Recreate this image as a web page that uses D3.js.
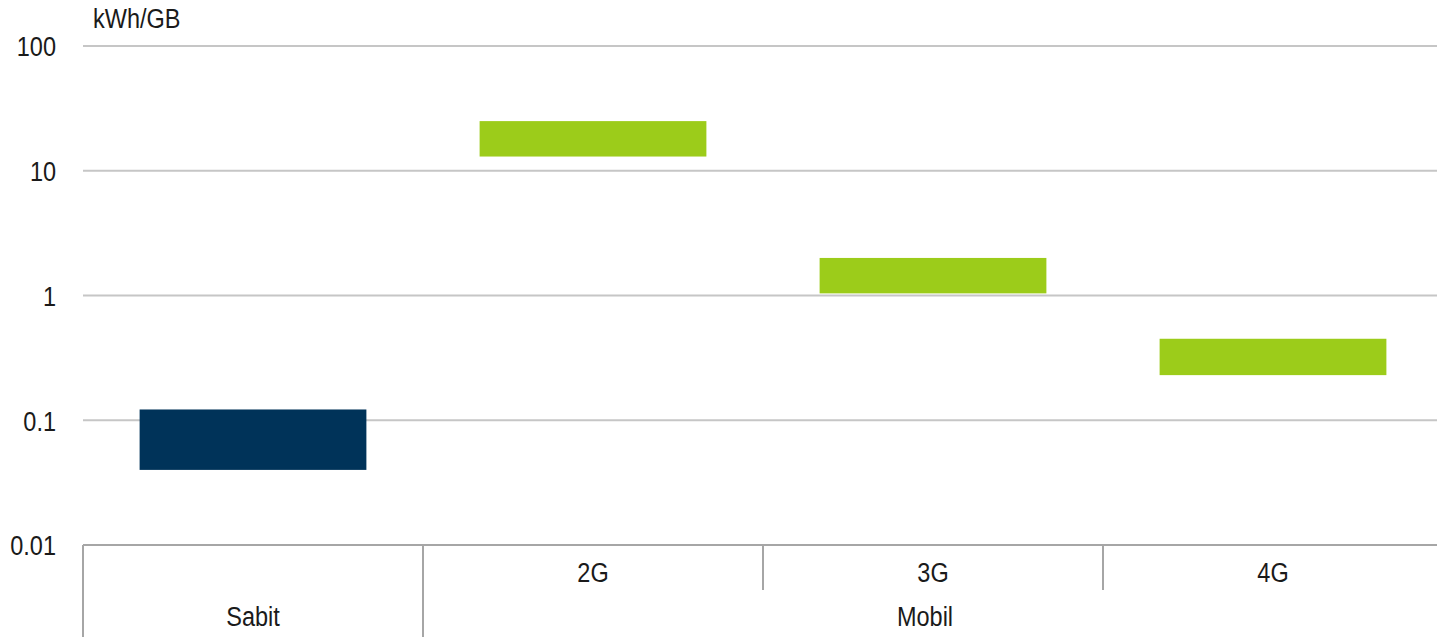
<!DOCTYPE html>
<html>
<head>
<meta charset="utf-8">
<script src="https://cdn.jsdelivr.net/npm/d3@7"></script>
<style>
	body{margin:0;background:#fff}
	svg{display:block;font-family:"Liberation Sans Narrow","Arial Narrow","Liberation Sans",Arial,sans-serif}
</style>
</head>
<body>
<svg></svg>
<script>
// kWh per GB, low and high end of each range
const categories=["Sabit","2G","3G","4G"]
const groups=["Sabit","Mobil","Mobil","Mobil"]
const lowValues=[0.04,13,1.04,0.23]
const highValues=[0.122,25,2,0.45]
const tickValues=[0.01,0.1,1,10,100]
const tickLabels=["0.01","0.1","1","10","100"]

const colors={Sabit:"#003359",Mobil:"#9ccc1a"}

//squeeze the text a bit, the original font is a narrow one
const squeeze=0.87
const fontSize="27px"

const svg=d3.select("svg")
	.attr("width",1437)
	.attr("height",637)

//log scale for the y axis
const y=d3.scaleLog()
	.domain([0.01,100])
	.range([545,46])

const x=d3.scaleBand()
	.domain(categories)
	.range([83,1443])

const place=function(px,py){
	return "translate("+px+","+py+") scale("+squeeze+",1)"
}

//grid lines
svg.append("g")
	.selectAll("line")
	.data(tickValues.slice(1))
	.enter()
	.append("line")
	.attr("x1",83)
	.attr("x2",1443)
	.attr("y1",d=>y(d))
	.attr("y2",d=>y(d))
	.style("stroke","#c6c6c6")
	.style("stroke-width",2)

//tick labels
svg.append("g")
	.selectAll("text")
	.data(tickValues)
	.enter()
	.append("text")
	.attr("transform",d=>place(56,y(d)+1))
	.attr("dy","0.35em")
	.attr("text-anchor","end")
	.style("font-size",fontSize)
	.style("fill","#1a1a1a")
	.text((d,i)=>tickLabels[i])

svg.append("text")
	.attr("transform",place(93,19))
	.attr("dy","0.35em")
	.style("font-size",fontSize)
	.style("fill","#1a1a1a")
	.text("kWh/GB")

//bars from low to high
const barWidth=x.bandwidth()*0.667
svg.append("g")
	.selectAll("rect")
	.data(categories)
	.enter()
	.append("rect")
	.attr("x",d=>x(d)+(x.bandwidth()-barWidth)/2)
	.attr("width",barWidth)
	.attr("y",(d,i)=>y(highValues[i]))
	.attr("height",(d,i)=>y(lowValues[i])-y(highValues[i]))
	.style("fill",(d,i)=>colors[groups[i]])

//x axis line and dividers
const axis=svg.append("g")
	.style("stroke","#a6a6a6")
	.style("stroke-width",2)

axis.append("line")
	.attr("x1",83)
	.attr("x2",1443)
	.attr("y1",545)
	.attr("y2",545)

axis.selectAll("line.div")
	.data(categories)
	.enter()
	.append("line")
	.attr("class","div")
	.attr("x1",d=>x(d))
	.attr("x2",d=>x(d))
	.attr("y1",545)
	.attr("y2",(d,i)=>(i==0 || groups[i]!=groups[i-1]) ? 637 : 590)

//sub category labels
svg.append("g")
	.selectAll("text")
	.data(categories)
	.enter()
	.append("text")
	.attr("transform",d=>place(x(d)+x.bandwidth()/2,573))
	.attr("dy","0.35em")
	.attr("text-anchor","middle")
	.style("font-size",fontSize)
	.style("fill","#1a1a1a")
	.text((d,i)=>groups[i]==d ? "" : d)

//group labels
const groupNames=Array.from(new Set(groups))
svg.append("g")
	.selectAll("text")
	.data(groupNames)
	.enter()
	.append("text")
	.attr("transform",g=>{
		const cats=categories.filter((c,i)=>groups[i]==g)
		const cx=(x(cats[0])+x(cats[cats.length-1])+x.bandwidth())/2 - (cats.length>1 ? 8 : 0)
		return place(cx,617)
	})
	.attr("dy","0.35em")
	.attr("text-anchor","middle")
	.style("font-size",fontSize)
	.style("fill","#1a1a1a")
	.text(g=>g)
</script>
</body>
</html>
